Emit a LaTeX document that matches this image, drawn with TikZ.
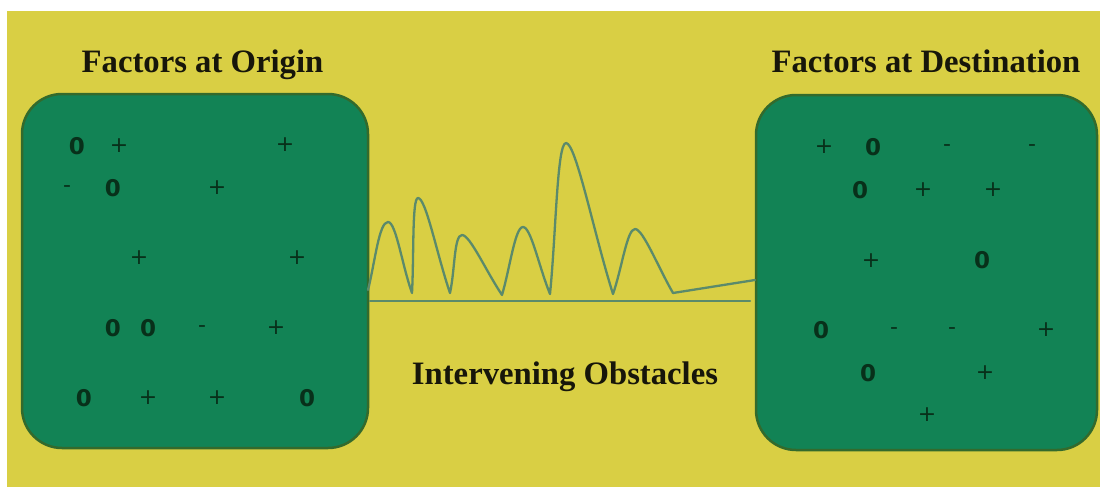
\documentclass[tikz,border=0pt]{standalone}
\usepackage{fontspec}
\setmainfont{Liberation Serif}
\newfontfamily\symfont{DejaVu Sans}
\definecolor{bgyellow}{HTML}{D9CF44}
\definecolor{boxgreen}{HTML}{128355}
\definecolor{boxedge}{HTML}{336A2C}
\definecolor{symcol}{HTML}{08301A}
\definecolor{wavecol}{HTML}{5B8A6B}
\definecolor{titlecol}{HTML}{17160A}
\tikzset{
  fbox/.style={draw=boxedge, line width=2.5pt, fill=boxgreen, rounded corners=40pt, inner sep=0pt},
  title/.style={font=\fontsize{32.7}{36}\selectfont\bfseries, text=titlecol, anchor=base, inner sep=0pt},
  sym/.style={font=\symfont\fontsize{22}{24}\selectfont, text=symcol, inner sep=0pt, anchor=center},
  zero/.style={sym, font=\symfont\bfseries\fontsize{23}{26}\selectfont},
  wave/.style={draw=wavecol, line width=2.3pt, line join=round, line cap=round},
}
\begin{document}
\begin{tikzpicture}[x=1pt, y=-1pt]
\useasboundingbox (0,0) rectangle (1100,487);
\fill[white] (0,0) rectangle (1100,487);
\fill[bgyellow] (7,11) rectangle (1100,487);

% boxes
\node[fbox, minimum width=346pt, minimum height=354pt] (orig) at (195,271) {};
\node[fbox, minimum width=341pt, minimum height=355pt] (dest) at (926.5,272.5) {};

% titles
\node[title] (torig) at (202.5,73) {Factors at Origin};
\node[title] (tdest) at (926,72.7) {Factors at Destination};
\node[title] (tobs) at (565,384.3) {Intervening Obstacles};

% origin symbols
\node[zero] (o1) at (77,146) {0};
\node[sym] (o2) at (119,146) {+};
\node[sym] (o3) at (285,145) {+};
\node[sym] (o4) at (67,189) {-};
\node[zero] (o5) at (113,188) {0};
\node[sym] (o6) at (217,188) {+};
\node[sym] (o7) at (139,258) {+};
\node[sym] (o8) at (297,258) {+};
\node[zero] (o9) at (113,328) {0};
\node[zero] (o10) at (148,328) {0};
\node[sym] (o11) at (202,329) {-};
\node[sym] (o12) at (276,328) {+};
\node[zero] (o13) at (84,398) {0};
\node[sym] (o14) at (148,398) {+};
\node[sym] (o15) at (217,398) {+};
\node[zero] (o16) at (307,398) {0};

% destination symbols
\node[sym] (d1) at (824,147) {+};
\node[zero] (d2) at (873,147) {0};
\node[sym] (d3) at (947,148) {-};
\node[sym] (d4) at (1032,148) {-};
\node[zero] (d5) at (860,190) {0};
\node[sym] (d6) at (923,190) {+};
\node[sym] (d7) at (993,190) {+};
\node[sym] (d8) at (871,261) {+};
\node[zero] (d9) at (982,260) {0};
\node[zero] (d10) at (821,330) {0};
\node[sym] (d11) at (894,331) {-};
\node[sym] (d12) at (952,331) {-};
\node[sym] (d13) at (1046,330) {+};
\node[zero] (d14) at (868,373) {0};
\node[sym] (d15) at (985,373) {+};
\node[sym] (d16) at (927,415) {+};

% baseline
\coordinate (b1) at (370,301);
\coordinate (b2) at (750,301);
\draw[wave] (b1) -- (b2);

% wave
\coordinate (ws) at (368,290);
\coordinate (we) at (673,293);
\coordinate (wt) at (755,280);
\draw[wave] (ws)
  .. controls (375,262) and (379,222) .. (388,222)
  .. controls (396,222) and (402,265) .. (412,293)
  .. controls (414,255) and (412,198) .. (418,198)
  .. controls (426,198) and (437,255) .. (450,293)
  .. controls (455,270) and (454,235) .. (462,235)
  .. controls (470,235) and (486,271) .. (502,295)
  .. controls (510,268) and (515,227) .. (523,227)
  .. controls (531,227) and (539,267) .. (550,294)
  .. controls (556,234) and (557,143) .. (566,143)
  .. controls (576,143) and (594,234) .. (613,294)
  .. controls (622,268) and (627,229) .. (635,229)
  .. controls (643,229) and (658,267) .. (we);
\draw[wave] (we) -- (wt);
\end{tikzpicture}
\end{document}
